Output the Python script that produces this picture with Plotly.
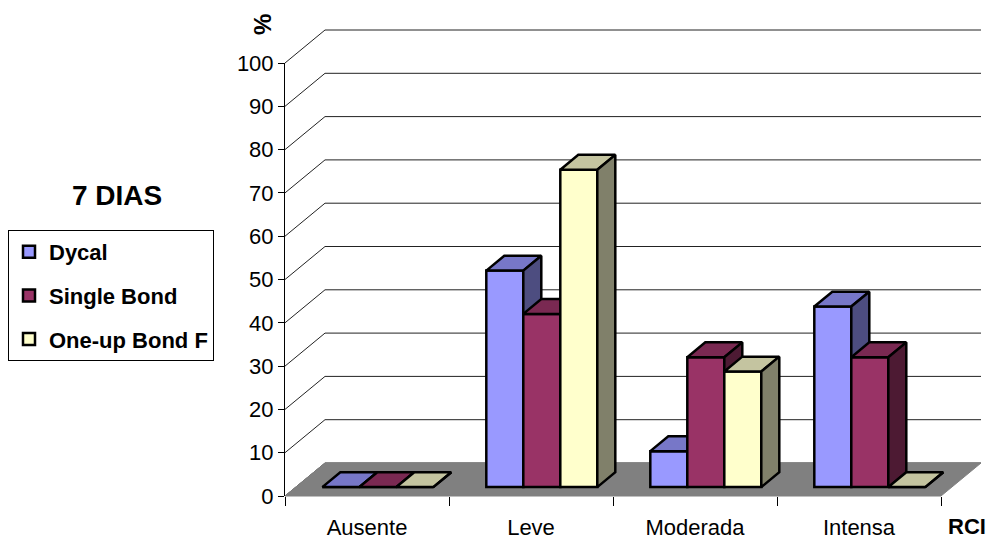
import plotly.graph_objects as go

# ---------------- data ----------------
categories = ["Ausente", "Leve", "Moderada", "Intensa"]
series_names = ["Dycal", "Single Bond", "One-up Bond F"]
dycal = [0, 50, 8.3, 41.7]
single_bond = [0, 40, 30, 30]
one_up_bond = [0, 73.3, 26.7, 0]
y_ticks = [0, 10, 20, 30, 40, 50, 60, 70, 80, 90, 100]

series_values = [dycal, single_bond, one_up_bond]
front_colors = ["#9999FF", "#993366", "#FFFFCC"]
top_colors = ["#7777C8", "#7A2952", "#C4C4A0"]
side_colors = ["#4D4D80", "#4D1A33", "#80806A"]

FONT = "Liberation Sans, Arial, sans-serif"

# ---------------- geometry (pixels) ----------------
W, H = 989, 541
AX_LEFT, AX_RIGHT = 285, 941      # front category axis extent
Y_ZERO, Y_HUNDRED = 496, 63       # front value axis extent
PXU = (AX_RIGHT - AX_LEFT) / len(categories)
PXV = (Y_ZERO - Y_HUNDRED) / 100.0
DEPTH_X, DEPTH_Y = 40, 33         # full depth of the 3D box
DU = DEPTH_X / PXU
DV = DEPTH_Y / PXV
BAR_D0, BAR_DEPTH = 0.27, 0.45    # bar position within depth (fractions)
BAR_W = 37 / PXU

x_range = [-0.5 - AX_LEFT / PXU, -0.5 + (W - AX_LEFT) / PXU]
y_range = [-(H - Y_ZERO) / PXV, Y_ZERO / PXV]

fig = go.Figure()

# front axes subplot (holds the visible value / category axes)
fig.add_trace(go.Scatter(x=[], y=[], xaxis="x", yaxis="y", showlegend=False, hoverinfo="skip"))

# ---------------- back wall grid + floor (subplot 2) ----------------
n = len(categories)
u_front = -0.5
u_back_right = n - 0.5 + DU
gx, gy = [], []
for v in y_ticks:
    gx += [u_front, u_front + DU, u_back_right, None]
    gy += [v, v + DV, v + DV, None]
fig.add_trace(go.Scatter(x=gx, y=gy, mode="lines", line=dict(color="#222222", width=1),
                         xaxis="x2", yaxis="y2", showlegend=False, hoverinfo="skip"))

fx = [-0.5, n - 0.5, n - 0.5 + DU, -0.5 + DU, -0.5]
fy = [0, 0, DV, DV, 0]
fig.add_trace(go.Scatter(x=fx, y=fy, mode="lines", fill="toself", fillcolor="#808080",
                         line=dict(color="#808080", width=1),
                         xaxis="x2", yaxis="y2", showlegend=False, hoverinfo="skip"))

# ---------------- bars (one subplot per series for correct 3D overlap) ----------------
base = BAR_D0 * DV
shift = BAR_D0 * DU
bdu = BAR_DEPTH * DU
bdv = BAR_DEPTH * DV
for i, (name, vals) in enumerate(zip(series_names, series_values)):
    ax = str(i + 3)
    offset = -1.5 * BAR_W + i * BAR_W + shift
    fig.add_trace(go.Bar(
        x=list(range(n)), y=vals, base=base, offset=offset, width=BAR_W,
        name="<b>" + name + "</b>", legendgroup=name,
        marker=dict(color=front_colors[i], line=dict(color="black", width=2.5)),
        xaxis="x" + ax, yaxis="y" + ax, hoverinfo="skip"))
    tx, ty, sx, sy = [], [], [], []
    for c, v in enumerate(vals):
        left = c + offset
        right = left + BAR_W
        top = base + v
        tx += [left, left + bdu, right + bdu, right, left, None]
        ty += [top, top + bdv, top + bdv, top, top, None]
        sx += [right, right + bdu, right + bdu, right, right, None]
        sy += [top, top + bdv, base + bdv, base, top, None]
    fig.add_trace(go.Scatter(x=tx, y=ty, mode="lines", fill="toself", fillcolor=top_colors[i],
                             line=dict(color="black", width=2.5), legendgroup=name,
                             xaxis="x" + ax, yaxis="y" + ax, showlegend=False, hoverinfo="skip"))
    fig.add_trace(go.Scatter(x=sx, y=sy, mode="lines", fill="toself", fillcolor=side_colors[i],
                             line=dict(color="black", width=2.5), legendgroup=name,
                             xaxis="x" + ax, yaxis="y" + ax, showlegend=False, hoverinfo="skip"))

hidden = dict(visible=False, showgrid=False, zeroline=False, fixedrange=True, automargin=False)
layout_axes = {}
for k in range(2, 6):
    layout_axes["xaxis%d" % k] = dict(domain=[0, 1], range=x_range, anchor="y%d" % k, **hidden)
    layout_axes["yaxis%d" % k] = dict(domain=[0, 1], range=y_range, anchor="x%d" % k, **hidden)

fig.update_layout(
    width=W, height=H,
    margin=dict(l=0, r=0, t=0, b=0, pad=0),
    paper_bgcolor="white", plot_bgcolor="rgba(0,0,0,0)",
    barmode="overlay",
    font=dict(family=FONT, size=22, color="black"),
    xaxis=dict(domain=[AX_LEFT / W, AX_RIGHT / W], range=[-0.5, n - 0.5], anchor="y",
               automargin=False,
               tickmode="array", tickvals=list(range(n)), ticktext=categories,
               ticks="outside", ticklen=12, tickcolor="rgba(0,0,0,0)",
               showline=False, showgrid=False, zeroline=False, fixedrange=True,
               tickfont=dict(family=FONT, size=22, color="black"),
               minor=dict(tickmode="array", tickvals=[c - 0.5 for c in range(n + 1)],
                          ticks="outside", ticklen=9, tickcolor="black", tickwidth=1,
                          showgrid=False)),
    yaxis=dict(domain=[(H - Y_ZERO) / H, (H - Y_HUNDRED) / H], range=[0, 100], anchor="x",
               automargin=False,
               tickmode="array", tickvals=y_ticks, ticks="outside", ticklen=6,
               tickcolor="black", showline=True, linecolor="black", linewidth=1,
               showgrid=False, zeroline=False, fixedrange=True,
               tickfont=dict(family=FONT, size=22, color="black")),
    legend=dict(x=8 / W, y=1 - 230 / H, xanchor="left", yanchor="top",
                bgcolor="white", bordercolor="black", borderwidth=1,
                font=dict(family=FONT, size=22, color="black"),
                itemwidth=30, tracegroupgap=12, traceorder="grouped"),
    annotations=[
        dict(text="<b>7 DIAS</b>", x=117 / W, y=1 - 195 / H, xref="paper", yref="paper",
             showarrow=False, xanchor="center", yanchor="middle",
             font=dict(family=FONT, size=28, color="black")),
        dict(text="<b>%</b>", x=262 / W, y=1 - 25 / H, xref="paper", yref="paper",
             showarrow=False, xanchor="center", yanchor="middle", textangle=-90,
             font=dict(family=FONT, size=24, color="black")),
        dict(text="<b>RCI</b>", x=967 / W, y=1 - 526 / H, xref="paper", yref="paper",
             showarrow=False, xanchor="center", yanchor="middle",
             font=dict(family=FONT, size=22, color="black")),
    ],
    **layout_axes,
)

fig.write_html("out.html")
